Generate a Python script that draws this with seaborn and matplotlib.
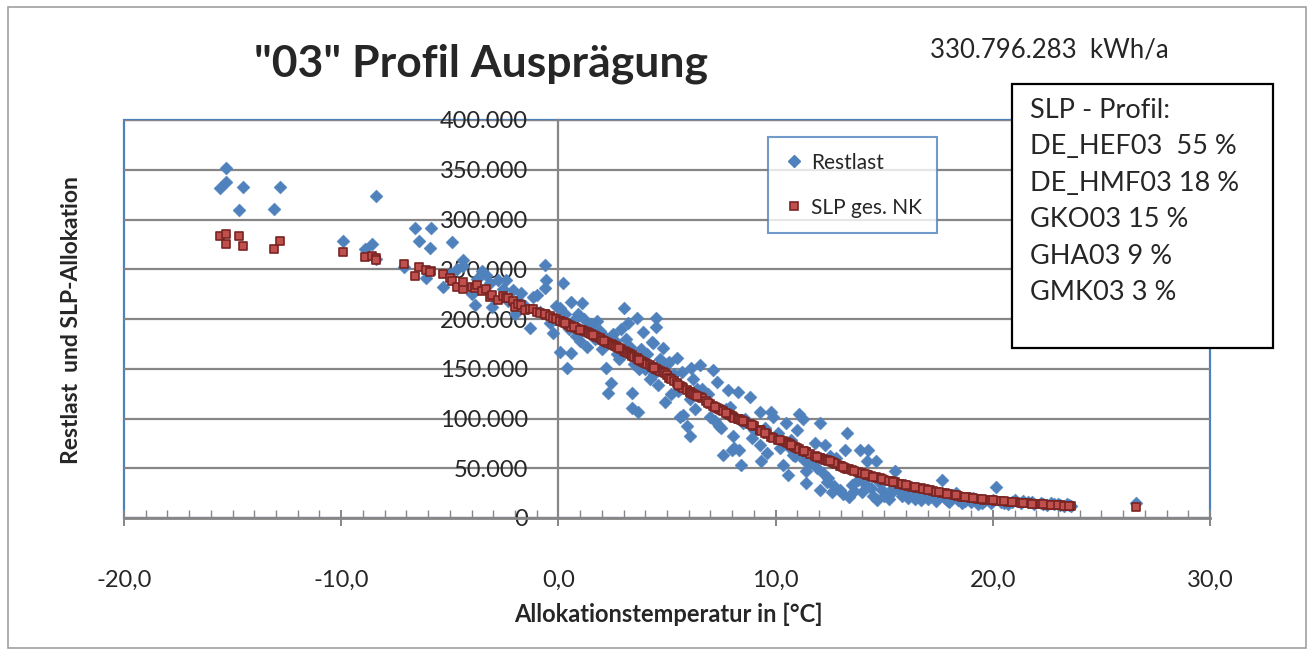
import numpy as np
import pandas as pd
import matplotlib
matplotlib.use("Agg")
import matplotlib.pyplot as plt
from matplotlib.patches import Rectangle
from matplotlib.lines import Line2D
from matplotlib.ticker import FuncFormatter, MultipleLocator
import seaborn as sns

# ---------------- data (values in 1000 kWh, temperature in °C) ----------------
temps = [
    -15.6, -15.3, -15.3, -14.7, -14.5, -13.1, -12.8, -9.9, -8.9, -8.6, -8.4, -8.4, -7.1, -6.6, -6.4,
    -6.1, -5.85, -5.9, -5.3, -5.0, -4.9, -4.65, -4.4, -4.4, -4.0, -3.85, -3.75, -3.5, -3.35, -3.15,
    -3.05, -2.8, -2.55, -2.4, -2.3, -2.1, -2.0, -1.86, -1.7, -1.55, -1.3, -1.17, -1.0, -0.85, -0.62,
    -0.57, -0.62, -0.4, -0.24, -0.1, 0.08, 0.08, 0.2, 0.4, 0.5, 0.6, 0.6, 0.8, 0.9, 1.08,
    1.2, 1.3, 1.4, 1.5, 1.7, 1.8, 1.9, 2.0, 2.2, 2.3, 2.4, 2.5, 2.6, 2.7, 2.9,
    3.0, 3.1, 3.2, 3.3, 3.4, 3.4, 3.5, 3.6, 3.65, 3.8, 3.9, 4.0, 4.1, 4.2, 4.3,
    4.35, 4.5, 4.5, 4.6, 4.7, 4.8, 4.9, 5.0, 5.1, 5.2, 5.3, 5.45, 5.6, 5.7, 5.75,
    5.9, 6.05, 6.05, 6.1, 6.2, 6.3, 6.5, 6.6, 6.8, 7.0, 7.1, 7.3, 7.4, 7.5, 7.6,
    7.8, 7.9, 8.0, 8.05, 8.1, 8.25, 8.3, 8.4, 8.6, 8.8, 9.0, 9.3, 9.3, 9.35, 9.6,
    9.8, 9.9, 10.1, 10.35, 10.5, 10.55, 10.65, 10.8, 10.9, 10.97, 11.1, 11.25, 11.4, 11.4, 11.6,
    11.8, 12.05, 12.05, 12.2, 12.27, 12.35, 12.6, 12.8, 12.96, 13.0, 13.2, 13.3, 13.4, 13.5, 13.8,
    13.9, 14.0, 14.2, 14.25, 14.4, 14.6, 14.65, 14.8, 15.0, 15.3, 15.5, 15.7, 15.9, 16.1, 16.3,
    16.5, 16.7, 16.9, 17.1, 17.25, 17.4, 17.65, 17.8, 18.0, 18.2, 18.4, 18.6, 18.8, 19.0, 19.3,
    19.6, 19.9, 20.15, 20.4, 20.7, 21.0, 21.3, 21.6, 21.9, 22.2, 22.5, 22.8, 23.1, 23.4, 23.6,
    26.6,
    12.4, 12.7, 13.1, 13.6, 14.1, 14.5, 14.9, 15.2, 15.4, 15.8, 16.0, 16.4, 16.8, 17.0, 17.5,
    17.9, 18.3, 18.7, 19.1, 19.5, 20.0, 20.5, 20.9, 21.4, 21.8, 22.3, 22.7, 23.0, 23.3, 23.5,
    0.3, 0.7, 1.0, 1.6, 2.1, 2.8, 3.7, 4.4, 5.5, 6.4, 6.9, 7.2, 7.7, 8.5, 8.9,
    9.5, 10.2, 10.7, 11.3, 11.9, 12.5,
]

restlast = [
    332, 352, 338, 310, 333, 311, 333, 278, 270, 275, 324, 260, 252, 291, 278,
    241, 291, 271, 232, 245, 277, 250, 253, 259, 225, 214, 240, 248, 244, 236,
    212, 239, 230, 239, 218, 229, 205, 219, 226, 213, 191, 222, 224, 207, 254,
    239, 231, 196, 186, 213, 211, 167, 236, 151, 190, 217, 166, 183, 205, 216,
    200, 172, 193, 195, 180, 198, 188, 170, 151, 126, 136, 185, 178, 165, 190,
    211, 180, 196, 172, 126, 111, 155, 201, 107, 170, 187, 150, 165, 140, 177,
    176, 201, 192, 134, 160, 171, 117, 155, 157, 125, 145, 161, 102, 147, 104,
    92, 82, 120, 151, 140, 110, 154, 130, 118, 102, 149, 137, 92, 90, 63,
    129, 112, 68, 82, 70, 127, 68, 53, 100, 122, 88, 107, 73, 57, 65,
    107, 102, 85, 53, 95, 43, 70, 63, 62, 88, 105, 100, 35, 47, 55,
    75, 95, 28, 45, 73, 36, 26, 60, 28, 52, 68, 85, 21, 33, 38,
    68, 26, 57, 68, 30, 57, 18, 35, 22, 25, 47, 28, 31, 20, 24,
    26, 18, 22, 27, 21, 17, 38, 20, 16, 22, 18, 15, 19, 16, 14,
    17, 15, 31, 16, 14, 18, 15, 16, 14, 15, 13, 14, 13, 14, 12,
    15,
    40, 32, 24, 27, 34, 22, 28, 19, 30, 22, 27, 19, 25, 19, 23,
    18, 25, 17, 20, 15, 18, 15, 16, 17, 16, 14, 15, 14, 12, 13,
    205, 199, 178, 190, 183, 160, 150, 145, 128, 130, 125, 97, 110, 95, 80,
    90, 70, 78, 58, 50, 62,
]

slp_nk = [
    283, 285, 275, 283, 273, 270, 278, 267, 262, 263, 261, 259, 255, 243, 252,
    249, 248, 247, 245, 241, 238, 232, 230, 237, 232, 231, 234, 228, 230, 222,
    224, 219, 223, 221, 221, 218, 212, 215, 214, 209, 210, 210, 207, 206, 205,
    204, 205, 203, 201, 200, 198, 198, 197, 195, 194, 193, 192, 191, 190, 189,
    188, 187, 186, 185, 183, 182, 181, 179, 177, 176, 175, 174, 173, 172, 170,
    168, 167, 166, 165, 164, 163, 162, 161, 160, 158, 157, 156, 155, 154, 152,
    152, 150, 150, 149, 148, 147, 146, 144, 141, 140, 138, 136, 133, 132, 131,
    129, 127, 127, 126, 125, 124, 122, 121, 118, 115, 113, 111, 110, 109, 108,
    105, 104, 103, 102, 101, 99, 99, 98, 96, 94, 92, 88, 88, 87, 84,
    81, 80, 78, 77, 76, 75, 74, 72, 71, 70, 69, 67, 66, 66, 64,
    62, 60, 60, 59, 58, 58, 56, 54, 52, 52, 50, 49, 49, 48, 46,
    45, 45, 43, 43, 42, 41, 40, 40, 38, 37, 36, 34, 33, 32, 31,
    30, 30, 29, 28, 27, 26, 25, 25, 24, 23, 22, 21, 21, 20, 19,
    18, 18, 17, 17, 16, 16, 15, 15, 14, 14, 13, 13, 13, 12, 12,
    11,
    57, 55, 51, 47, 44, 41, 39, 37, 36, 34, 33, 31, 29, 28, 26,
    24, 23, 21, 20, 19, 18, 17, 16, 15, 14, 14, 13, 13, 12, 12,
    196, 192, 189, 184, 178, 171, 159, 151, 134, 123, 116, 112, 106, 97, 93,
    85, 78, 73, 67, 61, 57,
]

series_names = ["Restlast", "SLP ges. NK"]
title_text = '"03" Profil Ausprägung'
annual_text = "330.796.283  kWh/a"
profile_lines = ["SLP - Profil:", "DE_HEF03  55 %", "DE_HMF03 18 %",
                 "GKO03 15 %", "GHA03 9 %", "GMK03 3 %"]
x_label = "Allokationstemperatur in [°C]"
y_label = "Restlast  und SLP-Allokation"

df = pd.DataFrame({
    "temp": temps,
    "restlast": np.array(restlast, dtype=float) * 1000,
    "slp": np.array(slp_nk, dtype=float) * 1000,
})

# ---------------- styling ----------------
sns.set_theme(style="white")
plt.rcParams["font.family"] = ["Lato", "DejaVu Sans"]

BLUE = "#4F81BD"
RED = "#C0504D"
DARKRED = "#7A2422"
GRAY = "#868686"

fig = plt.figure(figsize=(13.14, 6.55), dpi=100)
ax = fig.add_axes([124 / 1314, 1 - 518 / 655, (1210 - 124) / 1314, (518 - 120) / 655])

sns.scatterplot(data=df, x="temp", y="restlast", ax=ax, marker="D", s=44,
                color=BLUE, edgecolor=BLUE, linewidth=0.3, zorder=3)
sns.scatterplot(data=df, x="temp", y="slp", ax=ax, marker="s", s=30,
                color=RED, edgecolor=DARKRED, linewidth=1.2, zorder=4)

ax.set_xlim(-20, 30)
ax.set_ylim(0, 400000)

# gridlines
ax.yaxis.set_major_locator(MultipleLocator(50000))
ax.grid(axis="y", color=GRAY, linewidth=1.6, zorder=1)
ax.grid(axis="x", visible=False)
ax.set_axisbelow(True)

# axes lines
ax.spines["left"].set_position(("data", 0))
ax.spines["left"].set_color(GRAY)
ax.spines["left"].set_linewidth(1.6)
ax.spines["bottom"].set_color(GRAY)
ax.spines["bottom"].set_linewidth(2.0)
for s in ["top", "right"]:
    ax.spines[s].set_visible(False)
ax.add_patch(Rectangle((0, 0), 1, 1, transform=ax.transAxes, fill=False,
                       edgecolor=BLUE, linewidth=1.6, zorder=0.5, clip_on=False))

ax.xaxis.set_major_locator(MultipleLocator(10))
ax.xaxis.set_minor_locator(MultipleLocator(1))
ax.tick_params(axis="x", which="both", bottom=True)
ax.tick_params(axis="x", which="major", direction="inout", length=12, width=1.4,
               color=GRAY, pad=31, labelsize=17)
ax.tick_params(axis="x", which="minor", direction="in", length=6, width=1.0, color=GRAY)
ax.tick_params(axis="y", which="both", left=False, length=0, pad=22, labelsize=17)

ax.xaxis.set_major_formatter(FuncFormatter(lambda v, p: f"{v:.1f}".replace(".", ",")))
ax.yaxis.set_major_formatter(FuncFormatter(lambda v, p: f"{v:,.0f}".replace(",", ".")))

ax.set_xlabel("")
ax.set_ylabel("")
fig.text(668 / 1314, 1 - 614 / 655, x_label, fontsize=17, fontweight="bold",
         ha="center", va="center")
fig.text(72 / 1314, 1 - 320 / 655, y_label, rotation=90, fontsize=16.5,
         fontweight="bold", ha="center", va="center")

# legend
handles = [
    Line2D([], [], marker="D", linestyle="none", color=BLUE, markersize=6),
    Line2D([], [], marker="s", linestyle="none", markerfacecolor=RED,
           markeredgecolor=DARKRED, markersize=5.5, markeredgewidth=1.2),
]
leg = ax.legend(handles, series_names, loc="upper left",
                bbox_to_anchor=((768 - 124) / 1086, (518 - 137) / 398),
                borderaxespad=0, fontsize=15, frameon=True, fancybox=False,
                handletextpad=0.3, labelspacing=1.2, borderpad=0.75,
                handlelength=1.0)
leg.get_frame().set_edgecolor(BLUE)
leg.get_frame().set_linewidth(1.5)

# titles and annotations
fig.text(481 / 1314, 1 - 64 / 655, title_text, fontsize=32, fontweight="bold",
         ha="center", va="center")
fig.text(930 / 1314, 1 - 50 / 655, annual_text, fontsize=18.5, ha="left", va="center")

fig.patches.append(Rectangle((1012 / 1314, 1 - 348 / 655), (1273 - 1012) / 1314,
                             (348 - 84) / 655, transform=fig.transFigure,
                             fill=True, facecolor="white", edgecolor="black",
                             linewidth=1.6, zorder=5))
fig.text(1030 / 1314, 1 - 98 / 655, "\n".join(profile_lines), fontsize=19.5,
         ha="left", va="top", linespacing=1.57, zorder=6)

# outer chart border
fig.patches.append(Rectangle((8 / 1314, 7 / 655), 1298 / 1314, 641 / 655,
                             transform=fig.transFigure, fill=False,
                             edgecolor="#A0A0A0", linewidth=1.2))

fig.savefig("out.png", dpi=100)
